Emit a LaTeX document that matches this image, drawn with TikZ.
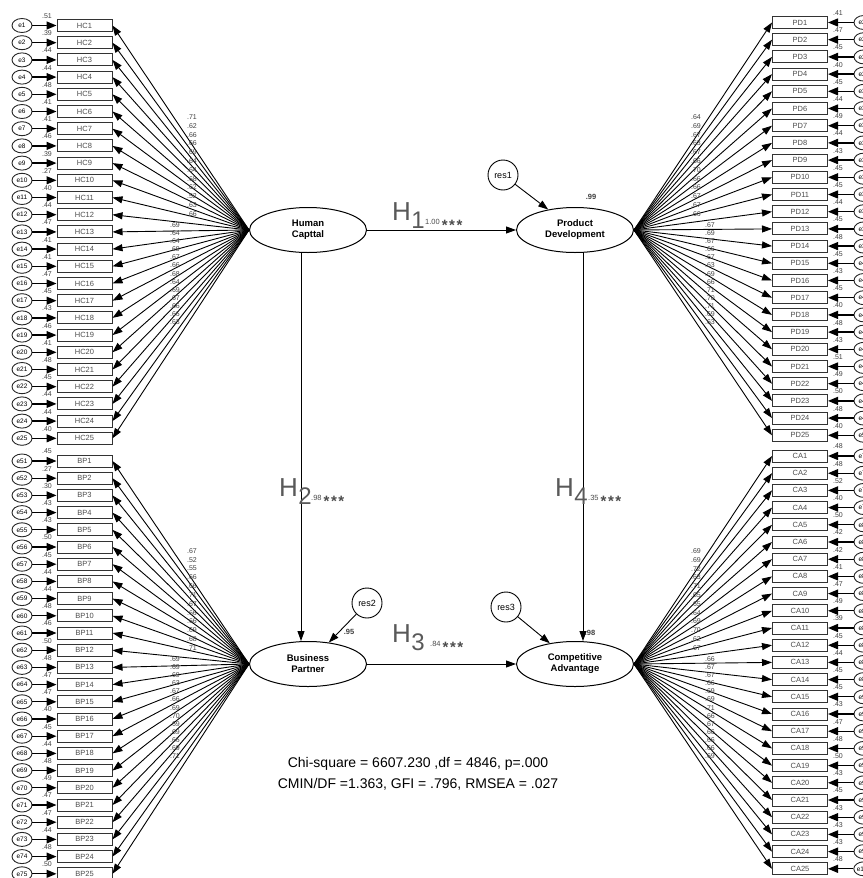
\documentclass[tikz,border=0pt]{standalone}
\usepackage{fontspec}
\setmainfont{Liberation Sans}
\usetikzlibrary{arrows.meta,calc,shapes.geometric}
\newcommand{\stars}{\raisebox{-6pt}{\fontsize{15}{15}\selectfont\bfseries *\hspace{1.5pt}*\hspace{1.5pt}*}}
\begin{document}
\begin{tikzpicture}[x=1pt,y=-1pt,
  ind/.style={draw=black!80, line width=1pt, minimum width=55pt, minimum height=12pt, inner sep=0pt, font=\fontsize{7.5}{8}\selectfont, text=black!70},
  err/.style={draw=black!85, line width=0.9pt, ellipse, minimum width=20pt, minimum height=14pt, inner sep=0pt, font=\fontsize{6.5}{7}\selectfont},
  lat/.style={draw, line width=1pt, ellipse, minimum width=117pt, minimum height=45pt, inner sep=0pt, font=\bfseries\fontsize{9.5}{11}\selectfont, align=center},
  res/.style={draw, line width=0.9pt, circle, minimum size=30pt, inner sep=0pt, font=\fontsize{9}{10}\selectfont},
  tip/.style={line width=0.9pt, -{Triangle[length=10pt,width=7pt]}},
  etip/.style={line width=1.3pt, -{Triangle[length=10pt,width=8pt]}},
  num/.style={font=\fontsize{7}{7}\selectfont, inner sep=0pt, text=black!75},
  hyp/.style={font=\fontsize{26}{26}\selectfont, text=black!65, inner sep=0pt, anchor=base west},
  hsub/.style={font=\fontsize{24}{24}\selectfont, text=black!65, inner sep=0pt, anchor=base west},
  est/.style={font=\fontsize{7.5}{8}\selectfont, text=black!70, inner sep=0pt, anchor=base west},
  fit/.style={font=\fontsize{14}{16}\selectfont, inner sep=0pt},
]
\useasboundingbox (0,0) rectangle (862,878);

% latent variables
\node[lat] (HC) at (308,230) {Human\\Capttal};
\node[lat] (PD) at (575,230) {Product\\Development};
\node[lat] (BP) at (308,664) {Business\\Partner};
\node[lat] (CA) at (575,664) {Competitive\\Advantage};

% Human Capital indicators
\foreach \i/\r/\l in {1/.51/.71,2/.39/.62,3/.44/.66,4/.44/.66,5/.48/.69,6/.41/.64,7/.41/.64,8/.46/.68,9/.39/.62,10/.27/.52,11/.40/.63,12/.44/.66,13/.47/.69,14/.41/.64,15/.41/.64,16/.47/.69,17/.45/.67,18/.43/.66,19/.46/.68,20/.41/.64,21/.48/.69,22/.45/.67,23/.44/.66,24/.44/.66,25/.40/.63}{
  \pgfmathsetmacro\yy{25.5+(\i-1)*17.2}
  \node[ind] (HC\i) at (84.5,\yy) {HC\i};
  \node[err] (eh\i) at (22,\yy) {e\i};
  \draw[etip] (eh\i) -- (HC\i);
  \node[num] at (47,\yy-9.5) {\r};
  \draw[tip] (HC.west) -- (HC\i.east);
  \ifnum\i<13
    \pgfmathsetmacro\ly{230-113+(\i-1)*8.8}
    \node[num] at (192,\ly) {\l};
  \else
    \pgfmathsetmacro\ly{230-5+(\i-13)*8.1}
    \node[num] at (175,\ly) {\l};
  \fi
}

% Business Partner indicators
\foreach \i/\r/\l in {1/.45/.67,2/.27/.52,3/.30/.55,4/.43/.66,5/.43/.66,6/.50/.71,7/.45/.67,8/.44/.66,9/.44/.66,10/.48/.69,11/.46/.68,12/.50/.71,13/.48/.69,14/.47/.69,15/.47/.69,16/.40/.63,17/.45/.67,18/.44/.66,19/.48/.69,20/.49/.70,21/.47/.69,22/.47/.69,23/.44/.66,24/.48/.69,25/.50/.71}{
  \pgfmathsetmacro\yy{461+(\i-1)*17.2}
  \pgfmathtruncatemacro\en{\i+50}
  \node[ind] (BP\i) at (84.5,\yy) {BP\i};
  \node[err] (eb\i) at (22,\yy) {e\en};
  \draw[etip] (eb\i) -- (BP\i);
  \node[num] at (47,\yy-9.5) {\r};
  \draw[tip] (BP.west) -- (BP\i.east);
  \ifnum\i<13
    \pgfmathsetmacro\ly{664-113+(\i-1)*8.8}
    \node[num] at (192,\ly) {\l};
  \else
    \pgfmathsetmacro\ly{664-5+(\i-13)*8.1}
    \node[num] at (175,\ly) {\l};
  \fi
}

% Product Development indicators
\foreach \i/\r/\l in {1/.41/.64,2/.47/.69,3/.45/.67,4/.40/.63,5/.45/.67,6/.44/.66,7/.49/.70,8/.44/.66,9/.43/.66,10/.45/.67,11/.45/.67,12/.44/.66,13/.45/.67,14/.48/.69,15/.45/.67,16/.43/.66,17/.45/.67,18/.40/.63,19/.48/.69,20/.43/.66,21/.51/.71,22/.49/.70,23/.50/.71,24/.48/.69,25/.40/.63}{
  \pgfmathsetmacro\yy{22.5+(\i-1)*17.2}
  \pgfmathtruncatemacro\en{\i+25}
  \node[ind] (PD\i) at (800,\yy) {PD\i};
  \node[err] (ep\i) at (864,\yy) {e\en};
  \draw[etip] (ep\i) -- (PD\i);
  \node[num] at (838,\yy-9.5) {\r};
  \draw[tip] (PD.east) -- (PD\i.west);
  \ifnum\i<13
    \pgfmathsetmacro\ly{230-113+(\i-1)*8.8}
    \node[num] at (696,\ly) {\l};
  \else
    \pgfmathsetmacro\ly{230-5+(\i-13)*8.1}
    \node[num] at (710,\ly) {\l};
  \fi
}

% Competitive Advantage indicators
\foreach \i/\r/\l in {1/.48/.69,2/.48/.69,3/.52/.72,4/.40/.63,5/.50/.71,6/.42/.65,7/.42/.65,8/.41/.64,9/.47/.69,10/.49/.70,11/.39/.62,12/.45/.67,13/.44/.66,14/.45/.67,15/.45/.67,16/.43/.66,17/.47/.69,18/.48/.69,19/.50/.71,20/.43/.66,21/.45/.67,22/.43/.66,23/.43/.66,24/.43/.66,25/.48/.69}{
  \pgfmathsetmacro\yy{456+(\i-1)*17.2}
  \pgfmathtruncatemacro\en{\i+75}
  \node[ind] (CA\i) at (800,\yy) {CA\i};
  \node[err] (ec\i) at (864,\yy) {e\en};
  \draw[etip] (ec\i) -- (CA\i);
  \node[num] at (838,\yy-9.5) {\r};
  \draw[tip] (CA.east) -- (CA\i.west);
  \ifnum\i<13
    \pgfmathsetmacro\ly{664-113+(\i-1)*8.8}
    \node[num] at (696,\ly) {\l};
  \else
    \pgfmathsetmacro\ly{664-5+(\i-13)*8.1}
    \node[num] at (710,\ly) {\l};
  \fi
}

% residuals
\node[res] (r1) at (503,175) {res1};
\node[res] (r2) at (367,603) {res2};
\node[res] (r3) at (506,607) {res3};
\draw[tip] (r1) -- (PD);
\draw[tip] (r2) -- (BP);
\draw[tip] (r3) -- (CA);
\node[num, font=\fontsize{7.5}{8}\selectfont\bfseries] at (591,197) {.99};
\node[num, font=\fontsize{7.5}{8}\selectfont\bfseries] at (349,632) {.95};
\node[num, font=\fontsize{7.5}{8}\selectfont\bfseries] at (590,633) {.98};

% structural paths
\draw[tip] (HC.east) -- (PD.west);
\draw[tip] ([xshift=-7pt]HC.south) -- ([xshift=-7pt]BP.north);
\draw[tip] ([xshift=8pt]PD.south) -- ([xshift=8pt]CA.north);
\draw[tip] (BP.east) -- (CA.west);

% hypothesis labels
\node[hyp] (h1) at (392,220) {H};
\node[hsub] at ([yshift=-8pt]h1.base east) {1};
\node[est] at (425,224) {1.00 \stars};
\node[hyp] (h2) at (279,496) {H};
\node[hsub] at ([yshift=-8pt]h2.base east) {2};
\node[est] at (311,500) {.98 \stars};
\node[hyp] (h4) at (555,496) {H};
\node[hsub] at ([yshift=-8pt]h4.base east) {4};
\node[est] at (588,500) {.35 \stars};
\node[hyp] (h3) at (392,642) {H};
\node[hsub] at ([yshift=-8pt]h3.base east) {3};
\node[est] at (430,646) {.84 \stars};

% fit indices
\node[fit] (chi) at (418,764) {Chi-square = 6607.230 ,df = 4846, p=.000};
\node[fit] (cmin) at (418,784) {CMIN/DF =1.363, GFI = .796, RMSEA = .027};
\end{tikzpicture}
\end{document}
